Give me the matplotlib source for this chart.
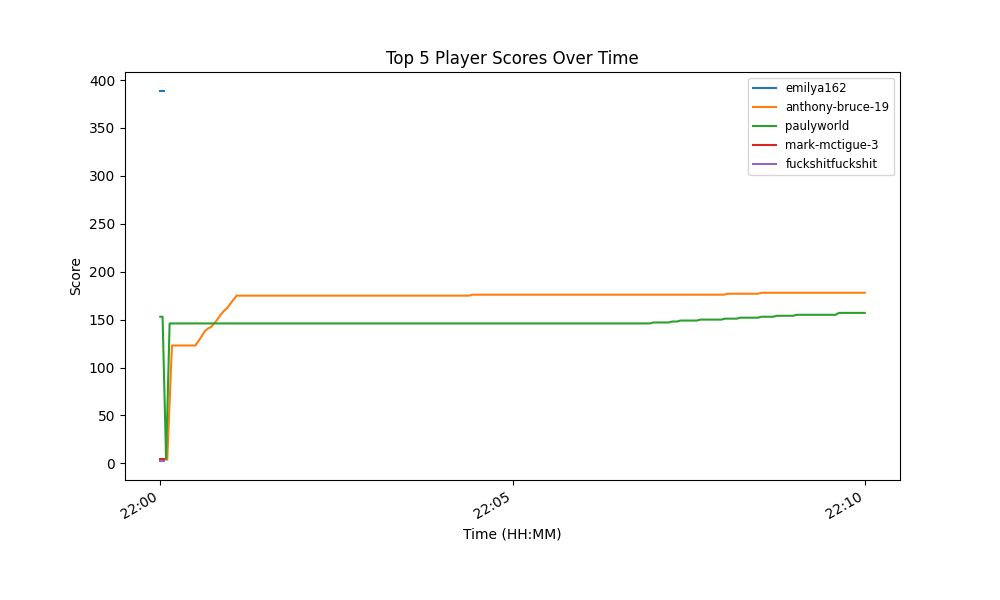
import matplotlib
matplotlib.use("Agg")
import matplotlib.pyplot as plt
import matplotlib.dates as mdates
import pandas as pd

SESSION_DATE = "2024-01-01"

# score snapshots per player (clock time, score)
emilya_times = ["22:00:00", "22:00:03"]
emilya_scores = [389, 389]

anthony_times = ["22:00:06", "22:00:10", "22:00:30", "22:00:35", "22:00:38",
                 "22:00:41", "22:00:43", "22:00:48", "22:00:52", "22:00:55",
                 "22:00:57", "22:01:00", "22:01:05", "22:04:23", "22:04:26",
                 "22:08:00", "22:08:03", "22:08:29", "22:08:32", "22:10:00"]
anthony_scores = [4, 123, 123, 132, 138,
                  141, 142, 149, 156, 160,
                  162, 167, 175, 175, 176,
                  176, 177, 177, 178, 178]

pauly_times = ["22:00:00", "22:00:02", "22:00:05", "22:00:08", "22:06:57",
               "22:07:00", "22:07:13", "22:07:16", "22:07:20", "22:07:23",
               "22:07:37", "22:07:40", "22:07:58", "22:08:01", "22:08:11",
               "22:08:14", "22:08:29", "22:08:32", "22:08:42", "22:08:45",
               "22:08:59", "22:09:02", "22:09:35", "22:09:38", "22:10:00"]
pauly_scores = [153, 153, 4, 146, 146,
                147, 147, 148, 148, 149,
                149, 150, 150, 151, 151,
                152, 152, 153, 153, 154,
                154, 155, 155, 157, 157]

mark_times = ["22:00:00", "22:00:03"]
mark_scores = [5, 5]

fsfs_times = ["22:00:00", "22:00:03"]
fsfs_scores = [2, 2]

players = [
    ("emilya162", emilya_times, emilya_scores),
    ("anthony-bruce-19", anthony_times, anthony_scores),
    ("paulyworld", pauly_times, pauly_scores),
    ("mark-mctigue-3", mark_times, mark_scores),
    ("fuckshitfuckshit", fsfs_times, fsfs_scores),
]


def to_datetimes(times):
    return pd.to_datetime([f"{SESSION_DATE} {t}" for t in times])


fig, ax = plt.subplots(figsize=(10, 6))
for name, times, scores in players:
    ax.plot(to_datetimes(times), scores, label=name)

ax.set_title("Top 5 Player Scores Over Time")
ax.set_xlabel("Time (HH:MM)")
ax.set_ylabel("Score")
ax.xaxis.set_major_locator(mdates.MinuteLocator(byminute=range(0, 60, 5)))
ax.xaxis.set_major_formatter(mdates.DateFormatter("%H:%M"))
ax.legend(fontsize="small")
fig.autofmt_xdate()

plt.savefig("out.png", dpi=100)
plt.close()
